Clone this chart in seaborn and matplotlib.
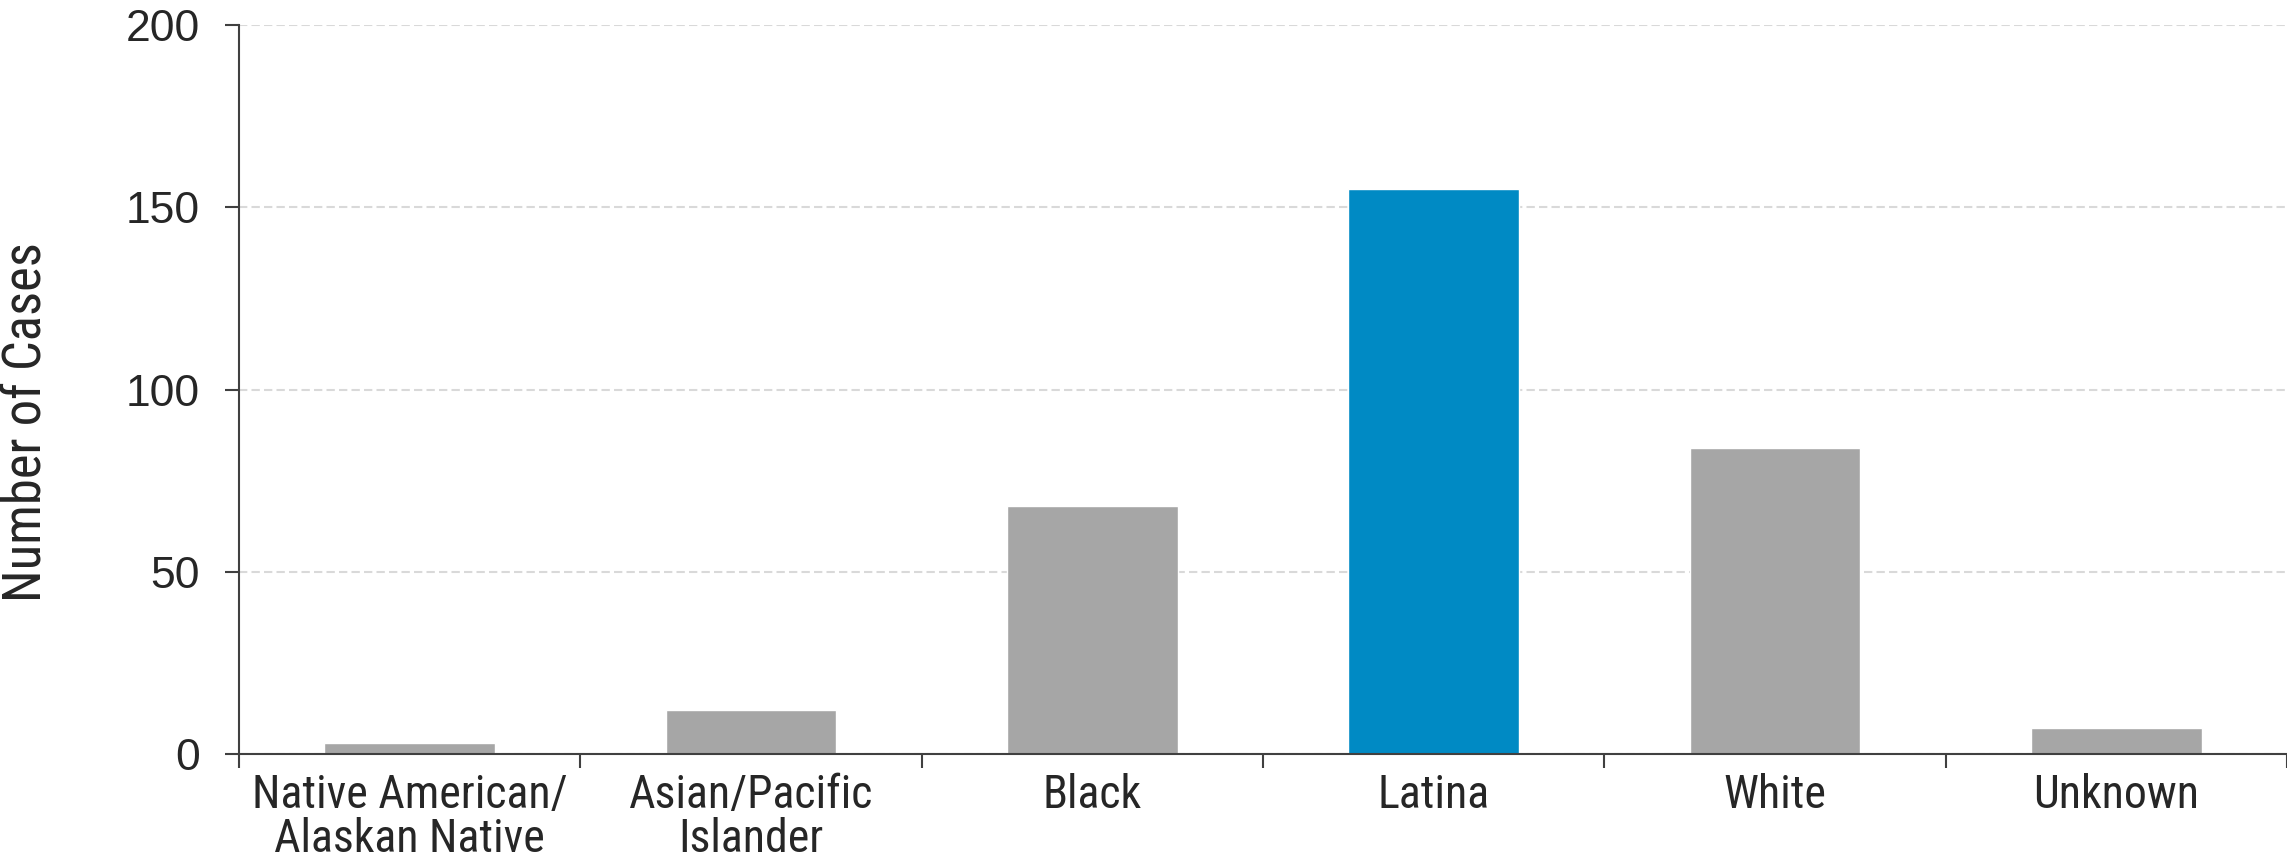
import matplotlib
matplotlib.use("Agg")
import matplotlib.pyplot as plt
import seaborn as sns
import pandas as pd
import numpy as np

# data
categories = ["Native American/\nAlaskan Native", "Asian/Pacific\nIslander", "Black",
              "Latina", "White", "Unknown"]
cases = [3, 12, 68, 155, 84, 7]
highlight = "Latina"

GREY = "#a6a6a6"
BLUE = "#008ac4"
TEXT = "#262626"
NARROW = ["Roboto Condensed", "Liberation Sans", "DejaVu Sans"]

sns.set_style("white")
plt.rcParams["font.family"] = ["Liberation Sans", "DejaVu Sans"]

df = pd.DataFrame({"Category": categories, "Cases": cases})
palette = {c: (BLUE if c == highlight else GREY) for c in categories}

fig = plt.figure(figsize=(22.87, 8.6), dpi=100)
ax = fig.add_axes([239 / 2287, 1 - 754 / 860, 1 - 239 / 2287, (754 - 25) / 860])

sns.barplot(data=df, x="Category", y="Cases", hue="Category", palette=palette,
            width=0.5, legend=False, saturation=1, ax=ax)

ax.set_ylim(0, 200)
ax.set_xlim(-0.5, len(categories) - 0.5)
ax.set_yticks(np.arange(0, 201, 50))
ax.yaxis.grid(True, linestyle=(0, (4, 2)), color="#d9d9d9", linewidth=1.5)
ax.set_axisbelow(True)

# tick marks between categories, labels centred under bars
ax.set_xticks(np.arange(-0.5, len(categories), 1), minor=True)
ax.tick_params(axis="x", which="major", bottom=True, length=0, pad=14, labelcolor=TEXT)
ax.tick_params(axis="x", which="minor", bottom=True, length=10, width=1.5,
               color="#404040", direction="out")
ax.tick_params(axis="y", left=True, length=10, width=1.5, color="#404040", direction="out",
               pad=18, labelsize=32, labelcolor=TEXT)
for lbl in ax.get_xticklabels():
    lbl.set_family(NARROW)
    lbl.set_fontsize(33)
    lbl.set_linespacing(1.0)

for side in ["top", "right"]:
    ax.spines[side].set_visible(False)
for side in ["left", "bottom"]:
    ax.spines[side].set_color("#404040")
    ax.spines[side].set_linewidth(1.5)

ax.set_xlabel("")
ax.set_ylabel("Number of Cases", fontsize=38, color=TEXT, family=NARROW)
ax.yaxis.set_label_coords(-186 / 2048, 0.456)

fig.savefig("out.png", dpi=100)
